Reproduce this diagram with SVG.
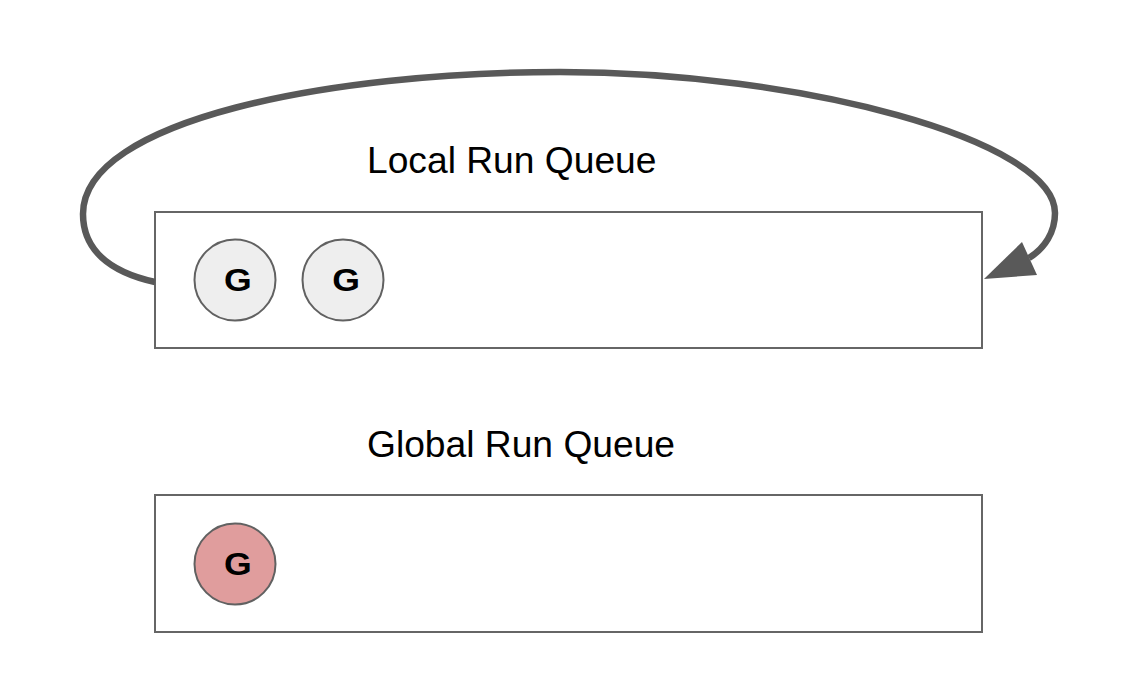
<svg xmlns="http://www.w3.org/2000/svg" width="1148" height="692" viewBox="0 0 1148 692">
<style>
.box{fill:#fff;stroke:#666;stroke-width:2}
.g{stroke:#616161;stroke-width:2}
.gl{fill:#eeeeee}
.gr{fill:#e09d9d}
.gt{font-family:"Liberation Sans",Arial,sans-serif;font-weight:bold;fill:#000;text-anchor:middle}
.lbl{font-family:"Liberation Sans",Arial,sans-serif;font-size:37.2px;fill:#000}
.conn{fill:none;stroke:#595959;stroke-width:6.5}
</style>
<rect width="1148" height="692" fill="#fff"/>
<g id="local-queue">
<rect class="box" x="155" y="212" width="827" height="136"/>
<text class="lbl" x="367" y="173">Local Run Queue</text>
</g>
<g id="g-local-1">
<circle class="g gl" cx="235" cy="280" r="40.5"/>
<text class="gt" x="238" y="291" font-size="31" transform="translate(238 291) scale(1.15 1) translate(-238 -291)">G</text>
</g>
<g id="g-local-2">
<circle class="g gl" cx="343" cy="280" r="40.5"/>
<text class="gt" x="346" y="291" font-size="31" transform="translate(346 291) scale(1.15 1) translate(-346 -291)">G</text>
</g>
<g id="global-queue">
<rect class="box" x="155" y="495" width="827" height="137"/>
<text class="lbl" x="367" y="457">Global Run Queue</text>
</g>
<g id="g-global">
<circle class="g gr" cx="235" cy="564" r="40.5"/>
<text class="gt" x="238" y="575" font-size="31" transform="translate(238 575) scale(1.15 1) translate(-238 -575)">G</text>
</g>
<g id="connectors">
<path class="conn" d="M155,282 C110,272 83,250 83,214 C83,120 330,72 560,72 C800,72 1055,140 1055,213 C1055,232 1045,248 1029,258"/>
<polygon points="984,279 1022,242 1037,275" fill="#595959"/>
</g>
</svg>
